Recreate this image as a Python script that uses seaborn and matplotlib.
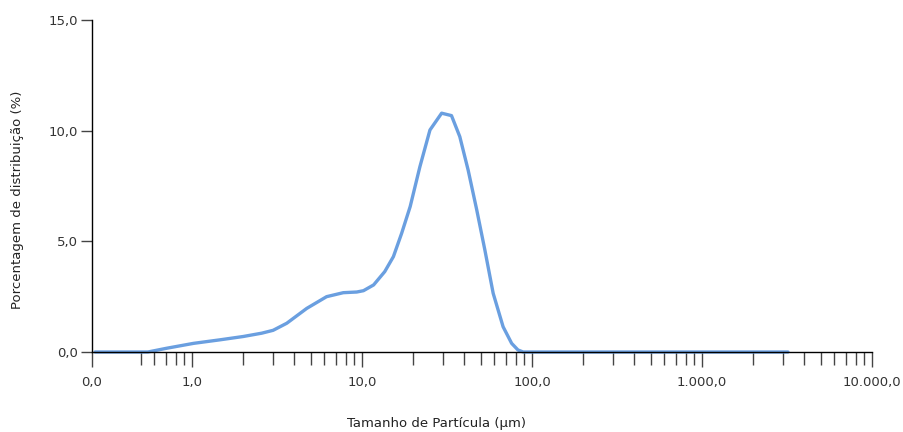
import numpy as np
import pandas as pd
import seaborn as sns
import matplotlib.pyplot as plt

sns.set_theme(style='white')
plt.rcParams['font.family'] = ['DejaVu Sans']

# particle size (um) and distribution (%)
size_um = [0.269, 0.55, 0.71, 1.02, 1.46, 2.0, 2.57, 3.0, 3.61, 4.73, 6.19, 7.76, 9.31,
           10.2, 11.7, 13.6, 15.3, 17.1, 19.2, 21.9, 25.1, 29.4, 33.6, 37.6,
           42.1, 47.3, 52.8, 59.1, 67.6, 75.9, 82.7, 88.8, 3205.0]
dist_pct = [0.0, 0.0, 0.17, 0.39, 0.55, 0.70, 0.85, 0.98, 1.30, 1.97, 2.50, 2.68, 2.71,
            2.77, 3.03, 3.63, 4.31, 5.36, 6.57, 8.37, 10.03, 10.79, 10.68, 9.73,
            8.22, 6.42, 4.61, 2.65, 1.14, 0.39, 0.09, 0.0, 0.0]

x_ticks = [0.258, 1, 10, 100, 1000, 10000]
x_labels = ['0,0', '1,0', '10,0', '100,0', '1.000,0', '10.000,0']
y_ticks = [0, 5, 10, 15]
y_labels = ['0,0', '5,0', '10,0', '15,0']

df = pd.DataFrame({'size': size_um, 'pct': dist_pct})

fig = plt.figure(figsize=(9.04, 4.32), dpi=100)
ax = fig.add_axes([92/904, 1-352/432, (872-92)/904, (352-20)/432])

sns.lineplot(data=df, x='size', y='pct', ax=ax, color='#6a9fe0',
             linewidth=2.4, clip_on=False)

ax.set_xscale('log')
ax.set_xlim(0.258, 10000)
ax.set_ylim(0, 15)

minor = [0.5, 0.6, 0.7, 0.8, 0.9]
for d in [1, 10, 100, 1000]:
    minor += [d * k for k in range(2, 10)]
ax.set_xticks(x_ticks)
ax.set_xticklabels(x_labels)
ax.set_xticks(minor, minor=True)
ax.set_yticks(y_ticks)
ax.set_yticklabels(y_labels)

ax.tick_params(axis='x', which='major', direction='out', length=11, width=1,
               color='#444444', labelcolor='#333333', labelsize=9.5, pad=6,
               bottom=True)
ax.tick_params(axis='x', which='minor', direction='out', length=9, width=1,
               color='#444444', bottom=True)
ax.tick_params(axis='y', direction='out', length=8, width=1, color='#444444',
               labelcolor='#333333', labelsize=9.5, pad=2, left=True)

for s in ['top', 'right']:
    ax.spines[s].set_visible(False)
for s in ['left', 'bottom']:
    ax.spines[s].set_color('#000000')
    ax.spines[s].set_linewidth(1)

ax.set_xlabel('')
ax.set_ylabel('')
fig.text(437/904, 1-424/432, 'Tamanho de Partícula (µm)', ha='center', va='center',
         fontsize=9.5, color='#222222')
fig.text(18/904, 1-200/432, 'Porcentagem de distribuição (%)', ha='center',
         va='center', rotation=90, fontsize=9.5, color='#222222')

fig.savefig('out.png', dpi=100)
